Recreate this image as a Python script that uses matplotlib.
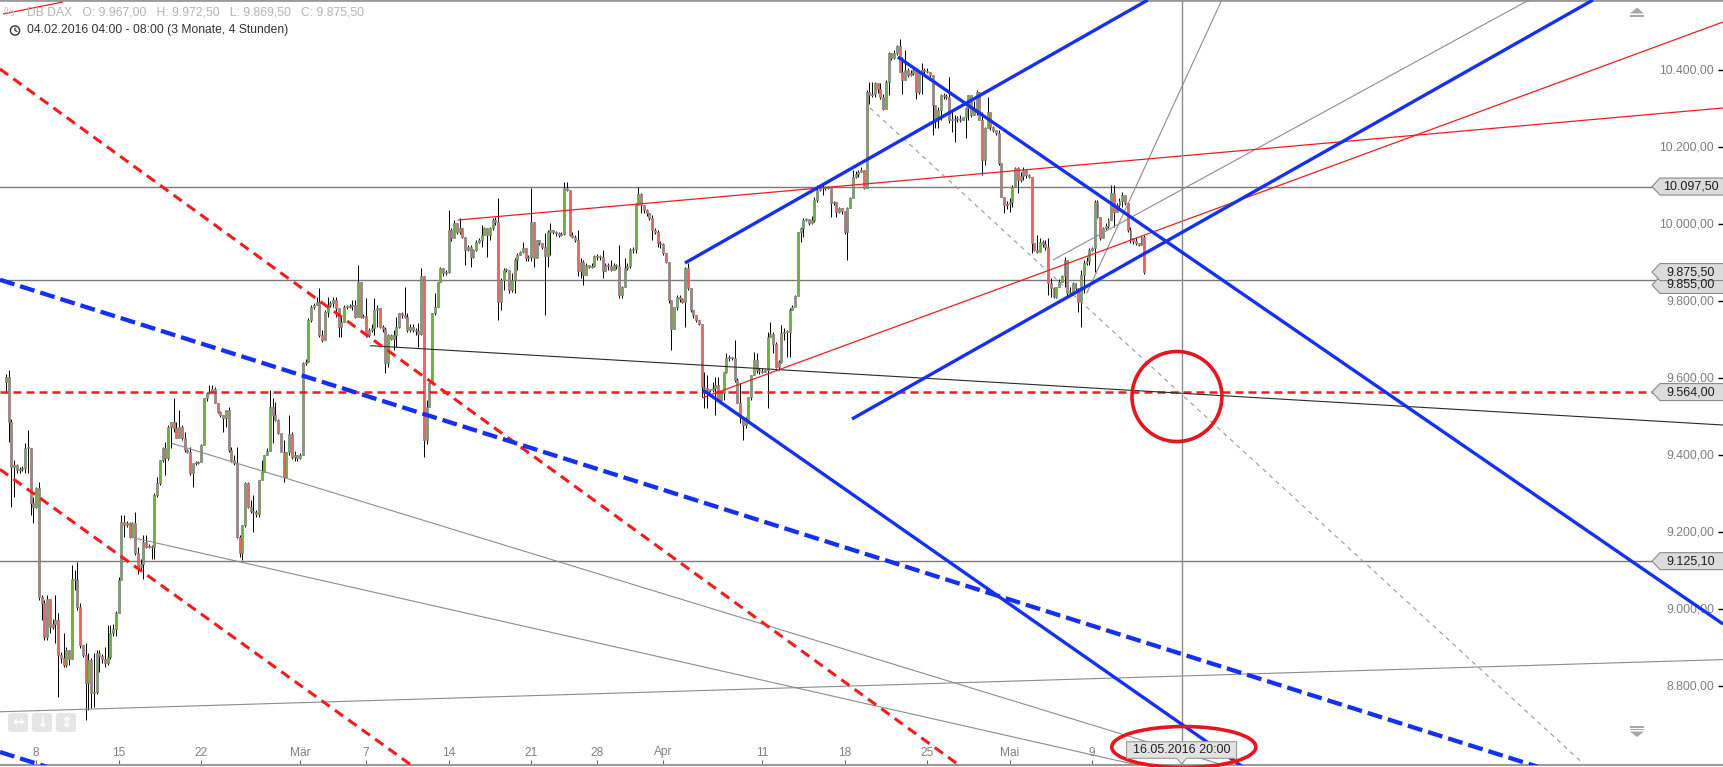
import numpy as np
import matplotlib
matplotlib.use('Agg')
import matplotlib.pyplot as plt
from matplotlib.patches import Ellipse, Polygon, Circle, FancyBboxPatch, Rectangle
from matplotlib.transforms import blended_transform_factory, IdentityTransform

plt.rcParams['font.family'] = ['Liberation Sans', 'DejaVu Sans']

W, H = 1723, 767

# DB DAX, 4h candles. one slot per bar, 6 slots per trading day, first bar in slot 1
first_open = 9591
closes = [
    9604, 9487, 9370, 9375, 9362, 9365, 9367, 9418, 9420, 9275,
    9266, 9314, 9033, 9016, 8929, 9026, 8955, 8962, 8972, 8881,
    8875, 8856, 8894, 8870, 9080, 9076, 9007, 8907, 8882, 8808,
    8868, 8782, 8785, 8886, 8880, 8872, 8860, 8877, 8938, 8950,
    8990, 9075, 9227, 9220, 9225, 9188, 9225, 9145, 9111, 9118,
    9175, 9163, 9165, 9162, 9297, 9327, 9388, 9418, 9392, 9474,
    9487, 9470, 9444, 9474, 9444, 9413, 9409, 9353, 9379, 9381,
    9383, 9426, 9548, 9561, 9565, 9573, 9535, 9513, 9505, 9496,
    9517, 9413, 9388, 9380, 9188, 9145, 9219, 9327, 9266, 9255,
    9253, 9248, 9336, 9357, 9400, 9412, 9526, 9504, 9491, 9457,
    9409, 9344, 9409, 9455, 9396, 9400, 9392, 9400,
    9639, 9643, 9751, 9786, 9790, 9799, 9712, 9699, 9773, 9790,
    9795, 9803, 9781, 9734, 9747, 9786, 9786, 9788, 9790, 9760,
    9851, 9760, 9762, 9712, 9725, 9730, 9777, 9781, 9734, 9728,
    9639, 9712, 9703, 9712, 9734, 9768, 9765, 9760, 9725, 9734,
    9725, 9722, 9716, 9864, 9440, 9526, 9587, 9768, 9786, 9851,
    9885, 9872, 9875, 9985, 9963, 10002, 9980, 9989, 9967, 9933,
    9941, 9914, 9933, 9954, 9959, 9972, 9989, 9972, 9989, 10011,
    10006, 9799, 9855, 9881, 9881, 9829, 9855, 9907, 9920, 9928,
    9937, 9911, 9915, 10006, 9911, 9958, 9950, 9940, 9917, 9980,
    9985, 9980, 9976, 9972, 9975, 10093, 10089, 9972, 9967, 9959,
    9877, 9902, 9868, 9894, 9889, 9892, 9917, 9915,
    9915, 9877, 9894, 9890, 9881, 9894, 9890, 9816, 9838, 9885,
    9890, 9933, 9935, 10050, 10078, 10050, 10037, 10030, 10015, 9985,
    9980, 9950, 9948, 9924, 9902, 9803, 9729, 9786, 9812, 9805,
    9799, 9885, 9833, 9777, 9764, 9752, 9740, 9578, 9574, 9569,
    9569, 9575, 9582, 9543, 9561, 9617, 9652, 9655, 9652, 9595,
    9535, 9500, 9479, 9490, 9552, 9608, 9647, 9621, 9618, 9617,
    9621, 9708, 9716, 9690, 9630, 9643, 9718, 9720, 9721, 9777,
    9785, 9813, 9980, 9989, 10011, 10012, 10002, 10010, 10063, 10089,
    10093, 10093, 10095, 10097, 10054, 10058, 10032, 10041, 10035, 9980,
    10041, 10067, 10123,
    10130, 10136, 10140, 10093, 10344, 10335, 10339, 10365, 10350, 10331,
    10300, 10370, 10443, 10430, 10445, 10462, 10396, 10374, 10400, 10387,
    10392, 10400, 10344, 10396, 10400, 10398, 10396, 10387, 10309, 10274,
    10296, 10335, 10333, 10331, 10270, 10270, 10274, 10272, 10270, 10277,
    10301, 10335, 10283, 10300, 10344, 10270, 10166, 10249, 10292, 10253,
    10245, 10237, 10158, 10071, 10050, 10052, 10058, 10097, 10145, 10114,
    10125, 10140, 10127, 10123, 9950, 9933, 9928, 9954, 9948, 9940,
    9846, 9833, 9812, 9837, 9850, 9865, 9907, 9820, 9820, 9846,
    9833, 9799, 9868, 9898, 9905, 9933, 9937, 10058, 10019, 9963,
    9989, 9995, 10011, 10080, 10032, 10050, 10060, 10075, 10054, 9985,
    9963, 9955, 9950, 9946, 9967, 9875.5,
]
highs = [
    9612, 9620, 9495, 9388, 9378, 9370, 9372, 9431, 9465, 9420,
    9292, 9318, 9331, 9037, 9025, 9037, 9026, 8975, 9037, 8990,
    8890, 8938, 8903, 8894, 9115, 9102, 9124, 9016, 8907, 8912,
    8886, 8873, 8886, 8895, 8895, 8885, 8903, 8959, 8959, 8962,
    8995, 9085, 9245, 9245, 9230, 9228, 9227, 9253, 9163, 9130,
    9193, 9193, 9170, 9168, 9301, 9344, 9388, 9422, 9435, 9478,
    9487, 9548, 9487, 9517, 9478, 9461, 9415, 9422, 9379, 9385,
    9385, 9430, 9548, 9565, 9582, 9582, 9578, 9535, 9515, 9505,
    9517, 9526, 9422, 9400, 9422, 9193, 9219, 9331, 9331, 9284,
    9297, 9258, 9336, 9388, 9400, 9418, 9569, 9548, 9539, 9495,
    9457, 9439, 9409, 9504, 9460, 9410, 9400, 9405,
    9643, 9650, 9755, 9790, 9795, 9810, 9833, 9725, 9777, 9812,
    9800, 9810, 9812, 9781, 9760, 9790, 9790, 9792, 9803, 9803,
    9894, 9851, 9766, 9807, 9730, 9740, 9807, 9790, 9781, 9738,
    9734, 9716, 9716, 9725, 9760, 9770, 9772, 9838, 9768, 9740,
    9740, 9730, 9742, 9885, 9864, 9543, 9590, 9768, 9820, 9851,
    9889, 9885, 9880, 10037, 9990, 10011, 10002, 10015, 9990, 9967,
    9945, 9946, 9935, 9958, 9963, 9998, 9992, 9989, 9993, 10015,
    10019, 10067, 9860, 9885, 9885, 9881, 9872, 9911, 9924, 9930,
    9954, 9937, 9920, 10093, 10006, 9958, 9959, 9950, 9976, 9985,
    10002, 9985, 9982, 9980, 9980, 10110, 10110, 10089, 9980, 9972,
    9985, 9911, 9907, 9898, 9895, 9898, 9920, 9922,
    9920, 9933, 9898, 9900, 9907, 9898, 9896, 9946, 9840, 9911,
    9900, 9937, 9940, 10054, 10097, 10080, 10050, 10040, 10030, 10024,
    9990, 9985, 9955, 9950, 9924, 9902, 9803, 9786, 9816, 9815,
    9808, 9889, 9898, 9833, 9777, 9765, 9752, 9740, 9617, 9608,
    9572, 9590, 9604, 9604, 9565, 9617, 9665, 9660, 9656, 9699,
    9600, 9587, 9500, 9500, 9552, 9608, 9669, 9665, 9626, 9626,
    9625, 9721, 9747, 9721, 9695, 9647, 9738, 9730, 9725, 9781,
    9790, 9815, 9980, 9993, 10015, 10015, 10012, 10020, 10071, 10101,
    10097, 10101, 10100, 10100, 10097, 10060, 10058, 10045, 10042, 10035,
    10045, 10070, 10140,
    10138, 10140, 10149, 10140, 10348, 10370, 10370, 10370, 10366, 10365,
    10339, 10374, 10448, 10443, 10452, 10465, 10480, 10435, 10452, 10404,
    10400, 10409, 10404, 10400, 10417, 10405, 10404, 10396, 10387, 10309,
    10305, 10339, 10340, 10339, 10383, 10296, 10283, 10280, 10283, 10279,
    10305, 10335, 10331, 10320, 10348, 10344, 10292, 10253, 10331, 10292,
    10255, 10245, 10244, 10158, 10071, 10060, 10067, 10101, 10149, 10149,
    10135, 10149, 10140, 10130, 10123, 9950, 9972, 9963, 9958, 9960,
    9963, 9859, 9837, 9837, 9858, 9868, 9915, 9907, 9837, 9850,
    9846, 9833, 9881, 9907, 9915, 9937, 9940, 10063, 10063, 10019,
    9993, 10002, 10015, 10101, 10101, 10055, 10068, 10084, 10075, 10058,
    9993, 9965, 9967, 9952, 9970, 9972.5,
]
lows = [
    9561, 9435, 9266, 9292, 9355, 9355, 9360, 9355, 9355, 9245,
    9223, 9262, 9025, 8972, 8920, 8920, 8938, 8950, 8912, 8773,
    8860, 8851, 8851, 8856, 8870, 9050, 8998, 8899, 8877, 8713,
    8739, 8743, 8747, 8780, 8838, 8860, 8851, 8856, 8870, 8930,
    8930, 8990, 9075, 9188, 9214, 9184, 9188, 9141, 9093, 9100,
    9080, 9160, 9160, 9132, 9132, 9292, 9323, 9383, 9349, 9388,
    9418, 9461, 9444, 9444, 9439, 9409, 9405, 9349, 9318, 9375,
    9378, 9383, 9426, 9540, 9560, 9565, 9535, 9510, 9500, 9461,
    9474, 9409, 9383, 9375, 9184, 9137, 9128, 9215, 9262, 9250,
    9201, 9240, 9240, 9336, 9357, 9400, 9412, 9431, 9488, 9455,
    9409, 9331, 9344, 9400, 9390, 9385, 9385, 9390,
    9400, 9635, 9643, 9745, 9780, 9790, 9708, 9695, 9699, 9760,
    9785, 9785, 9760, 9708, 9708, 9745, 9780, 9782, 9777, 9755,
    9760, 9755, 9755, 9708, 9708, 9720, 9712, 9734, 9730, 9720,
    9613, 9630, 9699, 9673, 9682, 9730, 9755, 9755, 9720, 9720,
    9720, 9712, 9682, 9712, 9396, 9430, 9526, 9587, 9765, 9786,
    9851, 9864, 9868, 9872, 9955, 9963, 9975, 9975, 9963, 9894,
    9930, 9889, 9911, 9930, 9950, 9940, 9972, 9915, 9959, 9985,
    9998, 9752, 9777, 9829, 9875, 9820, 9825, 9820, 9881, 9920,
    9924, 9905, 9905, 9905, 9889, 9911, 9945, 9935, 9764, 9889,
    9920, 9975, 9970, 9967, 9968, 9972, 10085, 9970, 9963, 9954,
    9864, 9859, 9842, 9868, 9885, 9885, 9889, 9908,
    9908, 9859, 9877, 9882, 9878, 9880, 9884, 9807, 9807, 9838,
    9880, 9885, 9925, 9924, 10050, 10028, 10028, 10022, 10010, 9959,
    9975, 9941, 9938, 9920, 9898, 9794, 9673, 9729, 9777, 9798,
    9795, 9734, 9829, 9773, 9755, 9745, 9738, 9552, 9522, 9522,
    9565, 9565, 9504, 9540, 9540, 9543, 9613, 9645, 9648, 9591,
    9535, 9483, 9440, 9470, 9485, 9543, 9608, 9613, 9612, 9613,
    9615, 9522, 9708, 9665, 9626, 9621, 9639, 9700, 9656, 9656,
    9777, 9785, 9813, 9954, 9967, 10008, 9998, 10000, 10005, 10058,
    10085, 10076, 10088, 10090, 10019, 10050, 10019, 10030, 10025, 9975,
    9907, 10041, 10067,
    10120, 10123, 10136, 10090, 10093, 10313, 10330, 10331, 10340, 10326,
    10296, 10300, 10335, 10425, 10428, 10440, 10396, 10339, 10374, 10383,
    10385, 10387, 10326, 10339, 10339, 10390, 10391, 10383, 10231, 10249,
    10249, 10270, 10326, 10326, 10262, 10240, 10214, 10265, 10265, 10270,
    10223, 10270, 10279, 10283, 10283, 10270, 10127, 10153, 10249, 10244,
    10238, 10232, 10153, 10071, 10028, 10040, 10032, 10045, 10097, 10080,
    10110, 10114, 10120, 10119, 9924, 9930, 9924, 9928, 9940, 9933,
    9816, 9812, 9807, 9807, 9837, 9850, 9837, 9812, 9815, 9816,
    9830, 9773, 9734, 9820, 9895, 9894, 9930, 9876, 10015, 9959,
    9963, 9985, 9989, 10011, 9993, 10032, 10045, 10045, 10050, 9980,
    9950, 9948, 9946, 9942, 9946, 9869.5,
]

# x axis: label and trading day counted from 04.02.2016
tick_labels = ['8', '15', '22', 'Mär', '7', '14', '21', '28', 'Apr', '11', '18', '25', 'Mai', '9']
tick_days = [2, 7, 12, 18, 22, 27, 32, 36, 40, 46, 51, 56, 61, 66]
price_ticks = [8800, 9000, 9200, 9400, 9600, 9800, 10000, 10200, 10400]

# horizontal levels
gray_levels = [10097.5, 9855.0, 9125.1]
red_level = 9564.0

# drawn trend lines, (bar, price) -> (bar, price)
blue_solid = [((247.96, 9899.0), (416.3, 10581.7)),
              ((308.7, 9494.1), (578.2, 10581.7)),
              ((325.4, 10433.7), (625.5, 8962.0)),
              ((254.5, 9569.4), (450.9, 8590.8))]
blue_dashed = [((-1.17, 9855.4), (558.4, 8590.8)),
               ((-1.17, 8629.7), (20.65, 8580.4))]
red_dashed = [((-1.17, 10402.6), (347.6, 8596.0)),
              ((-1.17, 9363.5), (149.4, 8590.8))]
red_thin = [((165.4, 10010.6), (625.5, 10301.4)),
            ((254.2, 9548.6), (625.5, 10524.6)),
            ((-0.08, 10545.4), (21.7, 10576.6))]
gray_thin = [((61.3, 9431.0), (443.6, 8596.0)),
             ((46.1, 9187.8), (415.6, 8590.8)),
             ((-1.17, 8734.1), (625.5, 8869.6)),
             ((381.8, 9906.8), (554.9, 10581.7)),
             ((394.1, 9820.4), (443.2, 10581.7))]
gray_dotted = [((315.3, 10301.4), (576.0, 8590.8))]
black_thin = [((133.4, 9684.4), (625.5, 9478.5))]

# red markings: centre (bar, price), width in bars, height in points
circle_mark = ((426.9, 9552.5), 32.7, 233.6)
oval_mark = ((429.4, 8642.7), 52.4, 106.4)

cursor_bar = 428.6
cursor_text = '16.05.2016 20:00'

header_1 = 'DB DAX   O: 9.967,00   H: 9.972,50   L: 9.869,50   C: 9.875,50'
header_2 = '04.02.2016 04:00 - 08:00 (3 Monate, 4 Stunden)'

tags = [(10097.5, '10.097,50'), (9855.0, '9.855,00'), (9875.5, '9.875,50'),
        (9564.0, '9.564,00'), (9125.1, '9.125,10')]
# the 9.855 tag sits partly hidden under the current price tag
tag_shift = {'9.855,00': -5}

GREEN = '#70b043'
RED = '#e36a64'
BLUE = '#1530f0'
LRED = '#f21c1c'


def de_fmt(v):
    s = '{:,.2f}'.format(v)
    return s.replace(',', 'X').replace('.', ',').replace('X', '.')


fig = plt.figure(figsize=(W / 100, H / 100), dpi=100)
ax = fig.add_axes([0, 2 / H, 1, 765 / H])
ax.set_xlim(-1.17, 625.5)
ax.set_ylim(8596.0, 10581.7)
for s in ['left', 'right']:
    ax.spines[s].set_visible(False)
ax.spines['top'].set_color('#9a9a9a')
ax.spines['top'].set_linewidth(2)
ax.spines['bottom'].set_color('#9a9a9a')
ax.spines['bottom'].set_linewidth(1.5)

ax.set_xticks([6 * d for d in tick_days])
ax.tick_params(axis='x', direction='in', length=3.5, width=0.8, color='#666666', labelbottom=False)
ax.yaxis.set_ticks_position('right')
ax.set_yticks(price_ticks)
ax.tick_params(axis='y', direction='in', length=3.5, width=1, color='black', labelright=False, labelleft=False)

# candles
n = min(len(closes), len(highs), len(lows))
c = np.array(closes[:n], dtype=float)
o = np.concatenate([[first_open], c[:-1]])
h = np.maximum(np.array(highs[:n], dtype=float), np.maximum(o, c))
l = np.minimum(np.array(lows[:n], dtype=float), np.minimum(o, c))
t = np.arange(n) + 1
up = c >= o
body = np.where(np.abs(c - o) < 2.5, 2.5, np.abs(c - o))
base = np.minimum(o, c)
ax.vlines(t, l, h, color='black', lw=0.7, zorder=2)
ax.bar(t[up], body[up], bottom=base[up], width=0.72, color=GREEN, edgecolor='#7d7d7d', lw=0.5, zorder=3)
ax.bar(t[~up], body[~up], bottom=base[~up], width=0.72, color=RED, edgecolor='#7d7d7d', lw=0.5, zorder=3)

# levels
for lv in gray_levels:
    ax.axhline(lv, color='#7a7a7a', lw=1.0, zorder=1)
ax.axhline(red_level, color=LRED, lw=1.8, ls=(0, (3.2, 2.0)), zorder=4)


def draw(lines, **kw):
    for (x0, y0), (x1, y1) in lines:
        ax.plot([x0, x1], [y0, y1], solid_capstyle='butt', dash_capstyle='butt', **kw)


draw(gray_thin, color='#8c8c8c', lw=0.8, zorder=4)
draw(gray_dotted, color='#9a9a9a', lw=0.8, ls=(0, (4, 4)), zorder=4)
draw(black_thin, color='#2a2a2a', lw=0.8, zorder=4)
draw(red_thin, color=LRED, lw=0.9, zorder=4)
draw(red_dashed, color=LRED, lw=2.2, ls=(0, (3.3, 2.1)), zorder=5)
draw(blue_dashed, color=BLUE, lw=3.1, ls=(0, (3.5, 1.4)), zorder=5)
draw(blue_solid, color=BLUE, lw=2.4, zorder=5)

ax.axvline(cursor_bar, color='#8c8c8c', lw=1.0, zorder=4)

for (cx, cy), ew, eh in [circle_mark, oval_mark]:
    ax.add_patch(Ellipse((cx, cy), ew, eh, fill=False, ec='#e8141e', lw=2.6, zorder=8, clip_on=False))

# y labels inside on the right
yt = blended_transform_factory(ax.transAxes, ax.transData)
for p in price_ticks:
    ax.text(1714 / W, p, de_fmt(p), transform=yt, ha='right', va='center',
            fontsize=8.8, color='#7f7f7f', zorder=1.5)

# x labels inside at the bottom
xt = blended_transform_factory(ax.transData, ax.transAxes)
for lab, d in zip(tick_labels, tick_days):
    ax.text(6 * d, 12.5 / 765, lab, transform=xt, ha='center', va='center',
            fontsize=8.6, color='#808080', zorder=1.5)

# price tags at the right edge
ident = IdentityTransform()
for p, txt in tags:
    y = ax.transData.transform((0, p))[1] + tag_shift.get(txt, 0)
    poly = Polygon([(1652, y), (1660, y + 8.5), (1725, y + 8.5), (1725, y - 8.5), (1660, y - 8.5)],
                   closed=True, fc='#dcdcdc', ec='#8a8a8a', lw=0.8, transform=ident, zorder=6)
    fig.add_artist(poly)
    fig.text(1691 / W, y / H, txt, ha='center', va='center', fontsize=9, color='#1e1e1e', zorder=7)

# cursor date box
cx = ax.transData.transform((cursor_bar, 0))[0]
fig.add_artist(Polygon([(cx - 55, 8.7), (cx - 5, 8.7), (cx, 3), (cx + 5, 8.7), (cx + 55, 8.7),
                        (cx + 55, 25.3), (cx - 55, 25.3)], closed=True, fc='#e2e2e2', ec='#9a9a9a',
                       lw=0.8, transform=ident, zorder=6))
fig.text(cx / W, 17 / H, cursor_text, ha='center', va='center', fontsize=9, color='#222222', zorder=7)

# header
fig.text(4 / W, 1 - 12.7 / H, '%', ha='left', va='center', fontsize=8.5, color='#c4c4c4')
fig.text(27 / W, 1 - 12.7 / H, header_1, ha='left', va='center', fontsize=8.7, color='#b4b4b4')
fig.text(27 / W, 1 - 30.5 / H, header_2, ha='left', va='center', fontsize=8.7, color='#333333')
fig.add_artist(Circle((15, H - 30.5), 4.6, fill=False, ec='#333333', lw=1.0, transform=ident))
fig.add_artist(Polygon([(15, H - 27.5), (15, H - 30.5), (17.5, H - 31.5)], closed=False, fill=False,
                       ec='#333333', lw=0.9, transform=ident))

# scroll markers right
fig.add_artist(Polygon([(1637, H - 7.5), (1630, H - 13.5), (1644, H - 13.5)], closed=True,
                       fc='#a8a8a8', ec='none', transform=ident))
fig.add_artist(Rectangle((1630, H - 16.5), 14, 1.6, fc='#a8a8a8', ec='none', transform=ident))
fig.add_artist(Rectangle((1630, H - 727.5), 14, 1.4, fc='#a8a8a8', ec='none', transform=ident))
fig.add_artist(Rectangle((1630, H - 730.2), 14, 1.4, fc='#a8a8a8', ec='none', transform=ident))
fig.add_artist(Polygon([(1630, H - 731.5), (1644, H - 731.5), (1637, H - 737)], closed=True,
                       fc='#a8a8a8', ec='none', transform=ident))

# small buttons bottom left
for bx, g in zip([8, 32, 56], ['\u2194', '\u2193', '\u21d5']):
    fig.add_artist(FancyBboxPatch((bx, H - 732), 20, 19, boxstyle='round,pad=0,rounding_size=3',
                                  fc='#e6e6e6', ec='none', transform=ident))
    fig.text((bx + 10) / W, (H - 722.5) / H, g, ha='center', va='center', fontsize=10,
             color='white', family='DejaVu Sans', fontweight='bold')

fig.savefig('out.png', dpi=100)
